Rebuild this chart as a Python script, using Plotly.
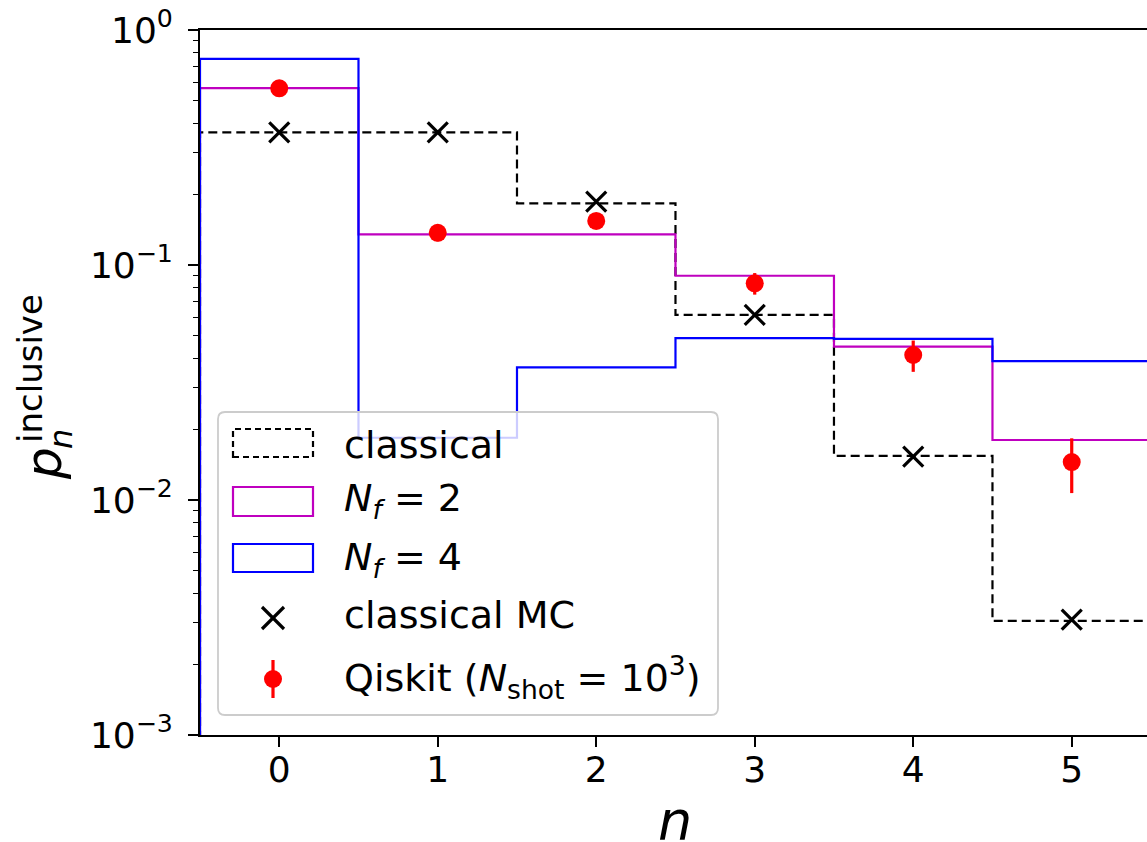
import plotly.graph_objects as go

# ---------------- data ----------------
n_vals = [0, 1, 2, 3, 4, 5]
bin_edges = [-0.5, 0.5, 1.5, 2.5, 3.5, 4.5, 5.5]
classical = [0.367, 0.367, 0.183, 0.0613, 0.0154, 0.00306]
nf2 = [0.566, 0.135, 0.135, 0.090, 0.0449, 0.0180]
nf4 = [0.753, 0.0184, 0.0367, 0.0488, 0.0485, 0.0390]
classical_mc = [0.367, 0.367, 0.186, 0.0613, 0.0153, 0.0031]
qiskit = [0.565, 0.137, 0.154, 0.0836, 0.0414, 0.0145]
qiskit_err = [0.0157, 0.0109, 0.0114, 0.0088, 0.0063, 0.0038]
y_tickvals = [1e-3, 1e-2, 1e-1, 1e0]
y_ticktext = ["10<sup>\u22123</sup>", "10<sup>\u22122</sup>", "10<sup>\u22121</sup>", "10<sup>0</sup>"]
x_ticktext = ["0", "1", "2", "3", "4", "5"]

FONT = "DejaVu Sans"
W, H = 1147, 842
L, R, T, B = 200, 0, 30, 107
PW, PH = W - L - R, H - T - B


def px(x):
    return (x - L) / PW


def py(y):
    return (H - B - y) / PH


FLOOR = 1e-6


def step_xy(vals):
    xs = [bin_edges[0]] + list(bin_edges) + [bin_edges[-1]]
    ys = [FLOOR] + list(vals) + [vals[-1], FLOOR]
    return xs, ys


fig = go.Figure()

for vals, color, dash in [(classical, "black", "9px,5px"), (nf2, "#bf00bf", "solid"), (nf4, "#0000ff", "solid")]:
    xs, ys = step_xy(vals)
    fig.add_trace(go.Scatter(x=xs, y=ys, mode="lines", line=dict(color=color, width=2.2, dash=dash, shape="hv"),
                             showlegend=False, hoverinfo="skip"))

fig.add_trace(go.Scatter(x=n_vals, y=classical_mc, mode="markers",
                         marker=dict(symbol="x-thin", size=20, line=dict(color="black", width=3.2), color="black"),
                         showlegend=False))
fig.add_trace(go.Scatter(x=n_vals, y=qiskit, mode="markers",
                         marker=dict(symbol="circle", size=18, color="#ff0000"),
                         error_y=dict(type="data", array=qiskit_err, color="#ff0000", thickness=3.2, width=0),
                         showlegend=False))

# minor tick positions for the log axis
minor_vals = [k * 10 ** e for e in (-3, -2, -1) for k in range(2, 10)]

fig.update_layout(
    width=W, height=H, autosize=False,
    margin=dict(l=L, r=R, t=T, b=B, pad=0),
    plot_bgcolor="white", paper_bgcolor="white",
    font=dict(family=FONT, color="black"),
    xaxis=dict(range=[-0.5, 5.475], tickmode="array", tickvals=n_vals, ticktext=x_ticktext,
               ticks="outside", ticklen=10, tickwidth=1.8, tickcolor="black",
               ticklabelposition="outside", ticklabelstandoff=-8,
               showline=True, linecolor="black", linewidth=1.8, mirror=True,
               showgrid=False, zeroline=False, tickfont=dict(size=36, family=FONT), automargin=False),
    yaxis=dict(type="log", range=[-3, 0], tickmode="array", tickvals=y_tickvals, ticktext=y_ticktext,
               ticks="outside", ticklen=10, tickwidth=1.8, tickcolor="black",
               ticklabelposition="outside", ticklabelstandoff=8,
               showline=True, linecolor="black", linewidth=1.8, mirror=False,
               showgrid=False, zeroline=False, tickfont=dict(size=36, family=FONT), automargin=False,
               minor=dict(tickmode="array", tickvals=minor_vals, ticks="outside", ticklen=5.5,
                          tickwidth=1.4, tickcolor="black", showgrid=False)),
)

# ---------------- axis labels ----------------
ann = []
ann.append(dict(text="<i>n</i>", x=px(675), y=py(820), xref="paper", yref="paper", showarrow=False,
                xanchor="center", yanchor="middle", font=dict(size=54, family=FONT)))
ann.append(dict(text="<i>p</i>", x=px(44), y=py(464), xref="paper", yref="paper", showarrow=False,
                textangle=-90, xanchor="center", yanchor="middle", font=dict(size=50, family=FONT)))
ann.append(dict(text="<i>n</i>", x=px(61), y=py(439), xref="paper", yref="paper", showarrow=False,
                textangle=-90, xanchor="center", yanchor="middle", font=dict(size=32, family=FONT)))
ann.append(dict(text="inclusive", x=px(30), y=py(369), xref="paper", yref="paper", showarrow=False,
                textangle=-90, xanchor="center", yanchor="middle", font=dict(size=34, family=FONT)))

# ---------------- legend (drawn by hand) ----------------
shapes = []
bx0, bx1, by0, by1, rr = 218, 718, 412, 715, 7
path = (f"M {px(bx0 + rr)},{py(by0)} L {px(bx1 - rr)},{py(by0)} Q {px(bx1)},{py(by0)} {px(bx1)},{py(by0 + rr)} "
        f"L {px(bx1)},{py(by1 - rr)} Q {px(bx1)},{py(by1)} {px(bx1 - rr)},{py(by1)} "
        f"L {px(bx0 + rr)},{py(by1)} Q {px(bx0)},{py(by1)} {px(bx0)},{py(by1 - rr)} "
        f"L {px(bx0)},{py(by0 + rr)} Q {px(bx0)},{py(by0)} {px(bx0 + rr)},{py(by0)} Z")
shapes.append(dict(type="path", path=path, xref="paper", yref="paper", layer="above",
                   fillcolor="rgba(255,255,255,0.8)", line=dict(color="#cccccc", width=1.8)))

patches = [(429, 457, "black", "dash"), (487, 516, "#bf00bf", "solid"), (544, 572, "#0000ff", "solid")]
for y0, y1, col, d in patches:
    shapes.append(dict(type="rect", xref="paper", yref="paper", layer="above",
                       x0=px(233), x1=px(313), y0=py(y1), y1=py(y0),
                       line=dict(color=col, width=2.2, dash="6px,4px" if d == "dash" else "solid"),
                       fillcolor="rgba(0,0,0,0)"))

# X marker
for a, b in [(-11, 11), (11, -11)]:
    shapes.append(dict(type="line", xref="paper", yref="paper", layer="above",
                       xsizemode="pixel", ysizemode="pixel", xanchor=px(273), yanchor=py(618),
                       x0=-11, x1=11, y0=a, y1=b, line=dict(color="black", width=3.2)))
# red dot with error bar
shapes.append(dict(type="line", xref="paper", yref="paper", layer="above",
                   xsizemode="pixel", ysizemode="pixel", xanchor=px(273), yanchor=py(679),
                   x0=0, x1=0, y0=-19, y1=19, line=dict(color="#ff0000", width=3.2)))
shapes.append(dict(type="circle", xref="paper", yref="paper", layer="above",
                   xsizemode="pixel", ysizemode="pixel", xanchor=px(273), yanchor=py(679),
                   x0=-9, x1=9, y0=-9, y1=9, fillcolor="#ff0000", line=dict(width=0)))

leg_texts = [("classical", 445), ("<i>N</i><sub><i>f</i></sub> = 2", 500), ("<i>N</i><sub><i>f</i></sub> = 4", 559),
             ("classical MC", 615), ("Qiskit (<i>N</i><sub>shot</sub> = 10<sup>3</sup>)", 677)]
for t, yc in leg_texts:
    ann.append(dict(text=t, x=px(342), y=py(yc), xref="paper", yref="paper", showarrow=False,
                    xanchor="left", yanchor="middle", font=dict(size=38, family=FONT)))

fig.update_layout(annotations=ann, shapes=shapes)
fig.write_html("out.html", config={"displayModeBar": False},
               post_script="document.body.style.margin='0px';document.body.style.overflow='hidden';")
